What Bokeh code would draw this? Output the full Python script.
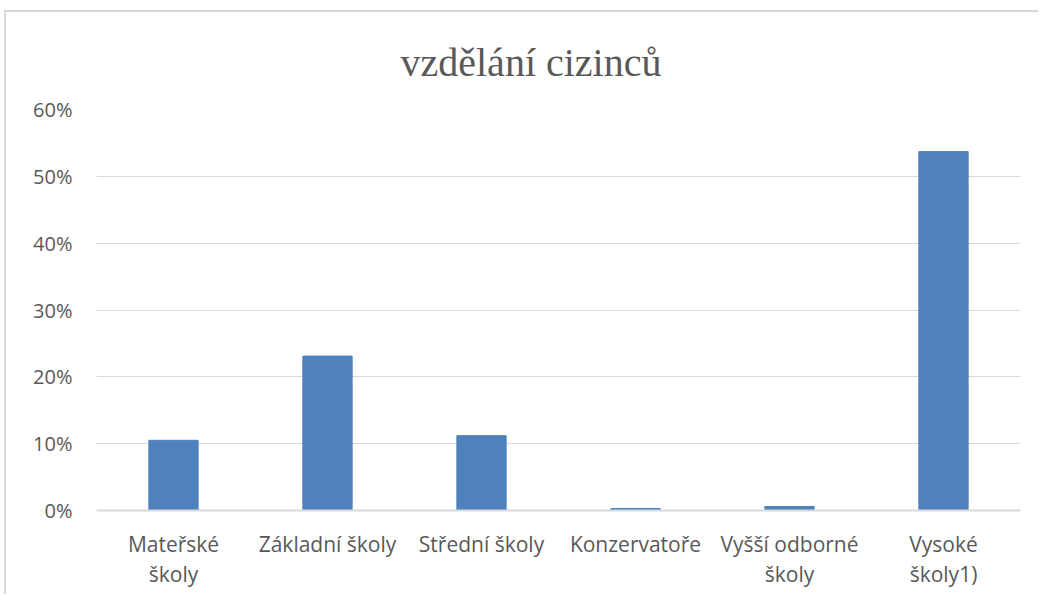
from bokeh.plotting import figure
from bokeh.models import NumeralTickFormatter, FixedTicker
from bokeh.embed import file_html
from bokeh.resources import INLINE

categories = ["Mateřské\nškoly", "Základní školy", "Střední školy", "Konzervatoře",
              "Vyšší odborné\nškoly", "Vysoké\nškoly1)"]
shares = [0.105, 0.231, 0.112, 0.003, 0.006, 0.537]
y_ticks = [0, 0.1, 0.2, 0.3, 0.4, 0.5, 0.6]
title_text = "vzdělání cizinců"

GRAY = "#595959"
LINE = "#d9d9d9"

p = figure(width=1034, height=584, x_range=categories, y_range=(0, 0.6),
           output_backend="svg", toolbar_location=None,
           min_border_left=90, min_border_right=20, min_border_top=97, min_border_bottom=86)
p.margin = (10, 0, 0, 4)

p.vbar(x=categories, top=shares, width=0.32, color="#4f81bd")

p.title.text = title_text
p.title.align = "left"
p.title.offset = 304
p.title.text_font = "Liberation Serif"
p.title.text_font_size = "40px"
p.title.text_font_style = "normal"
p.title.text_color = GRAY
p.title.standoff = 50

p.outline_line_color = None
p.xgrid.grid_line_color = None
p.ygrid.grid_line_color = LINE
p.ygrid.grid_line_width = 1

p.yaxis.ticker = FixedTicker(ticks=y_ticks)
p.yaxis.formatter = NumeralTickFormatter(format="0%")
p.yaxis.axis_line_color = None
p.yaxis.major_tick_line_color = None
p.yaxis.minor_tick_line_color = None
p.yaxis.major_label_text_font = "Open Sans"
p.yaxis.major_label_text_font_size = "20px"
p.yaxis.major_label_text_color = GRAY
p.yaxis.major_label_standoff = 18

p.xaxis.axis_line_color = LINE
p.xaxis.axis_line_width = 2
p.xaxis.major_tick_line_color = None
p.xaxis.minor_tick_line_color = None
p.xaxis.major_label_text_font = "Open Sans"
p.xaxis.major_label_text_font_size = "21px"
p.xaxis.major_label_text_color = GRAY
p.xaxis.major_label_standoff = 13
p.xaxis.major_label_text_line_height = 1.1

p.styles = {"border-top": "2px solid #d9d9d9", "border-left": "2px solid #d9d9d9"}

open("out.html", "w").write(file_html(p, INLINE))
